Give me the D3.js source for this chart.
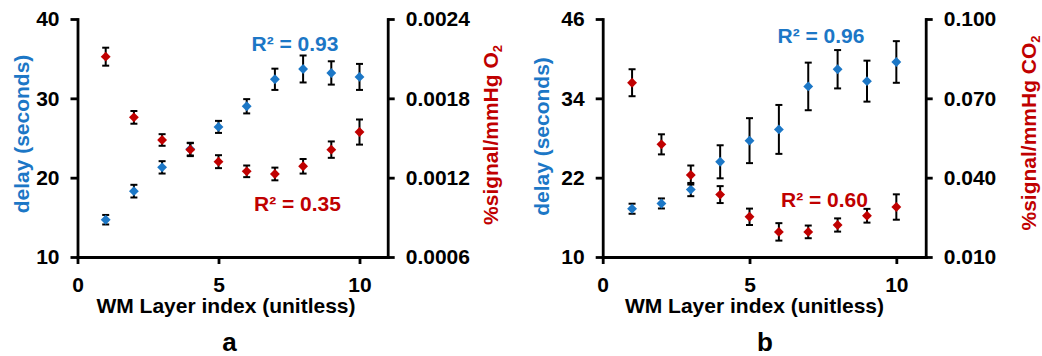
<!DOCTYPE html>
<html>
<head>
<meta charset="utf-8">
<script src="https://cdn.jsdelivr.net/npm/d3@7/dist/d3.min.js"></script>
<style>
  html, body { margin: 0; padding: 0; background: #ffffff; }
  svg { display: block; }
  text { font-family: "Liberation Sans", Arial, Helvetica, sans-serif; font-weight: bold; }
</style>
</head>
<body>
<svg id="chart" width="1042" height="356"></svg>
<script>
// WM layer index shared by both panels
const layers = [1, 2, 3, 4, 5, 6, 7, 8, 9, 10];
const xTicks = [0, 5, 10];

// Panel a: O2 challenge
const delayO2 = [14.7, 18.3, 21.3, 23.6, 26.4, 29.0, 32.4, 33.7, 33.2, 32.7];
const delayO2Err = [0.6, 0.8, 0.78, 0.8, 0.76, 0.9, 1.34, 1.7, 1.47, 1.64];
const slopeO2 = [0.002115, 0.001656, 0.001485, 0.001412, 0.001321, 0.001248, 0.001228, 0.001286, 0.001412, 0.001545];
const slopeO2Err = [0.000068, 0.000048, 0.000044, 0.000049, 0.000049, 0.000044, 0.000048, 0.000055, 0.000062, 0.000095];
const delayO2Ticks = [10, 20, 30, 40];
const slopeO2Ticks = [0.0006, 0.0012, 0.0018, 0.0024];

// Panel b: CO2 challenge
const delayCO2 = [17.3, 18.1, 20.2, 24.4, 27.6, 29.3, 35.8, 38.4, 36.6, 39.5];
const delayCO2Err = [0.76, 0.76, 1.0, 2.5, 3.4, 3.7, 3.6, 2.9, 3.1, 3.15];
const slopeCO2 = [0.0759, 0.0526, 0.0410, 0.0336, 0.0252, 0.0195, 0.0195, 0.0221, 0.0256, 0.0289];
const slopeCO2Err = [0.0051, 0.0038, 0.0036, 0.0032, 0.0031, 0.0033, 0.0024, 0.0025, 0.0026, 0.0048];
const delayCO2Ticks = [10, 22, 34, 46];
const slopeCO2Ticks = [0.010, 0.040, 0.070, 0.100];

const BLUE = "#1c77c6";
const RED = "#c00000";
const FONT = 21;

const svg = d3.select("#chart");

function drawPanel(cfg) {
  const g = svg.append("g");
  const x = d3.scaleLinear().domain([0, 11]).range([cfg.left, cfg.right]);
  const yL = d3.scaleLinear().domain(cfg.leftDomain).range([257, 19]);
  const yR = d3.scaleLinear().domain(cfg.rightDomain).range([257, 19]);

  const styleAxis = sel => {
    sel.selectAll("path, line").attr("stroke", "#000").attr("stroke-width", 2.8);
    sel.select("path.domain").attr("stroke-linecap", "square");
    sel.selectAll("text").attr("font-size", FONT).attr("fill", "#000")
      .attr("font-family", "'Liberation Sans', Arial, sans-serif").attr("font-weight", "bold");
  };

  g.append("g").attr("transform", `translate(0,257)`)
    .call(d3.axisBottom(x).tickValues(xTicks).tickSize(7).tickSizeOuter(0).tickPadding(13).tickFormat(d3.format("d")))
    .call(styleAxis);
  g.append("g").attr("transform", `translate(${cfg.left},0)`)
    .call(d3.axisLeft(yL).tickValues(cfg.leftTicks).tickSize(7).tickSizeOuter(0).tickPadding(11).tickFormat(d3.format("d")))
    .call(styleAxis);
  g.append("g").attr("transform", `translate(${cfg.right},0)`)
    .call(d3.axisRight(yR).tickValues(cfg.rightTicks).tickSize(7).tickSizeOuter(0).tickPadding(11).tickFormat(cfg.rightFormat))
    .call(styleAxis);

  const diamond = d3.symbol().type(d3.symbolDiamond2).size(62);

  function series(values, errs, y, color) {
    const s = g.append("g");
    const pts = layers.map((l, i) => ({ l, v: values[i], e: errs[i] }));
    const bars = s.selectAll("g.err").data(pts).join("g").attr("class", "err")
      .attr("stroke", "#000").attr("stroke-width", 2);
    bars.append("line")
      .attr("x1", d => x(d.l)).attr("x2", d => x(d.l))
      .attr("y1", d => y(d.v - d.e)).attr("y2", d => y(d.v + d.e));
    bars.append("line")
      .attr("x1", d => x(d.l) - 3.5).attr("x2", d => x(d.l) + 3.5)
      .attr("y1", d => y(d.v + d.e)).attr("y2", d => y(d.v + d.e));
    bars.append("line")
      .attr("x1", d => x(d.l) - 3.5).attr("x2", d => x(d.l) + 3.5)
      .attr("y1", d => y(d.v - d.e)).attr("y2", d => y(d.v - d.e));
    s.selectAll("path.pt").data(pts).join("path").attr("class", "pt")
      .attr("d", diamond)
      .attr("transform", d => `translate(${x(d.l)},${y(d.v)})`)
      .attr("fill", color);
  }

  series(cfg.delay, cfg.delayErr, yL, BLUE);
  series(cfg.slope, cfg.slopeErr, yR, RED);

  // axis titles
  g.append("text")
    .attr("transform", `translate(${cfg.leftTitleX},${cfg.leftTitleY}) rotate(-90)`)
    .attr("text-anchor", "middle").attr("dy", "0.35em")
    .attr("font-size", FONT).attr("fill", BLUE)
    .text("delay (seconds)");

  const rt = g.append("text")
    .attr("transform", `translate(${cfg.rightTitleX},${cfg.rightTitleY}) rotate(-90)`)
    .attr("text-anchor", "middle").attr("dy", "0.35em")
    .attr("font-size", FONT).attr("fill", RED);
  rt.append("tspan").text("%signal/mmHg " + cfg.gas);
  rt.append("tspan").attr("font-size", 13).attr("dy", 4).text("2");

  g.append("text")
    .attr("x", cfg.xTitleX).attr("y", 313)
    .attr("text-anchor", "middle").attr("font-size", FONT).attr("fill", "#000")
    .text("WM Layer index (unitless)");

  g.append("text")
    .attr("x", cfg.letterX).attr("y", 351)
    .attr("text-anchor", "middle").attr("font-size", 26).attr("fill", "#000")
    .text(cfg.letter);

  // fit statistics
  g.append("text").attr("x", cfg.r2Blue[0]).attr("y", cfg.r2Blue[1])
    .attr("font-size", FONT).attr("fill", BLUE).text(cfg.r2BlueText);
  g.append("text").attr("x", cfg.r2Red[0]).attr("y", cfg.r2Red[1])
    .attr("font-size", FONT).attr("fill", RED).text(cfg.r2RedText);
}

drawPanel({
  left: 77.5, right: 387.7,
  leftDomain: [10, 40], rightDomain: [0.0006, 0.0024],
  leftTicks: delayO2Ticks, rightTicks: slopeO2Ticks,
  rightFormat: d3.format(".4f"),
  delay: delayO2, delayErr: delayO2Err, slope: slopeO2, slopeErr: slopeO2Err,
  gas: "O", leftTitleX: 21.7, leftTitleY: 134, rightTitleX: 490.5, rightTitleY: 135,
  xTitleX: 226, letterX: 229.5, letter: "a",
  r2Blue: [251.5, 50.5], r2BlueText: "R² = 0.93",
  r2Red: [254, 210.5], r2RedText: "R² = 0.35"
});

drawPanel({
  left: 602.7, right: 925.7,
  leftDomain: [10, 46], rightDomain: [0.010, 0.100],
  leftTicks: delayCO2Ticks, rightTicks: slopeCO2Ticks,
  rightFormat: d3.format(".3f"),
  delay: delayCO2, delayErr: delayCO2Err, slope: slopeCO2, slopeErr: slopeCO2Err,
  gas: "CO", leftTitleX: 541.7, leftTitleY: 136.5, rightTitleX: 1029, rightTitleY: 133,
  xTitleX: 754.5, letterX: 765, letter: "b",
  r2Blue: [777.5, 42.5], r2BlueText: "R² = 0.96",
  r2Red: [781, 206.5], r2RedText: "R² = 0.60"
});
</script>
</body>
</html>
